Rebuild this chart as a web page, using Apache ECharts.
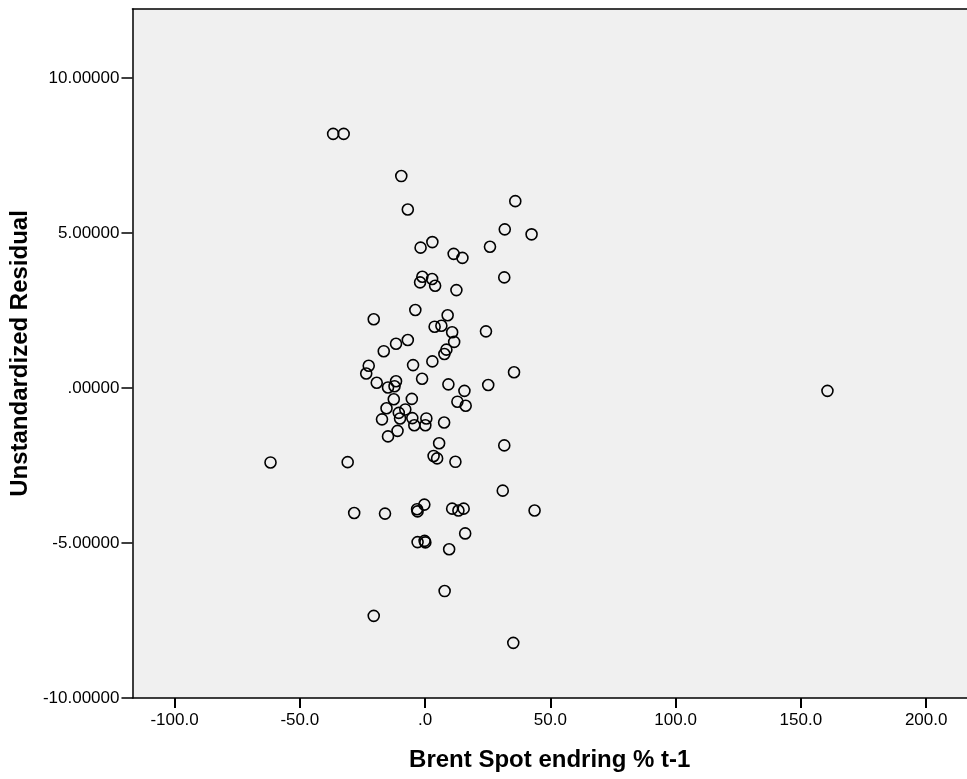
<!DOCTYPE html>
<html>
<head>
<meta charset="utf-8">
<script src="https://cdn.jsdelivr.net/npm/echarts@6/dist/echarts.min.js"></script>
<style>
html,body{margin:0;padding:0;background:#fff;}
#chart{width:967px;height:779px;}
</style>
</head>
<body>
<div id="chart"></div>
<script>
// Brent Spot endring % t-1 (x) vs Unstandardized Residual (y)
const xValues = [
  -36.7, -32.5, -9.5, 36.0, -6.9, 31.8, 42.5, 2.9, -1.8, 25.9,
  11.4, 14.9, 31.6, -1.1, 2.8, -2.0, 4.0, 12.5,
  -3.9, 9.0, -20.5, 3.8, 6.5, 10.8, 24.3, 11.6, -6.9, -11.6,
  -16.5, 8.5, 7.7, -4.8, 2.9, -22.5, -23.5, 35.5, -1.2, -19.3,
  -11.6, -14.8, -12.2, 9.3, 25.2, 15.7, -5.3, -12.5, 12.9, 16.2,
  -7.9, -15.4, -10.5, -10.0, -17.2, -5.1, 0.5, -4.3, 0.1, 7.6,
  -11.0, -14.8, 5.6, 31.6, 3.4, 4.8, 12.1, -30.9, 31.0,
  -28.3, -16.0, -3.2, -3.0, -0.3, 10.8, 13.3, 15.4, 43.7, 16.0,
  -3.0, -0.2, 0.1, 9.6, 7.8, -20.5, 35.2,
  -61.7, 160.6
];
const yValues = [
  8.20, 8.20, 6.84, 6.03, 5.76, 5.12, 4.96, 4.71, 4.53, 4.56,
  4.33, 4.20, 3.57, 3.59, 3.52, 3.41, 3.30, 3.16,
  2.52, 2.35, 2.22, 1.98, 2.01, 1.80, 1.83, 1.49, 1.55, 1.43,
  1.19, 1.24, 1.10, 0.74, 0.86, 0.72, 0.47, 0.51, 0.30, 0.17,
  0.22, 0.02, 0.06, 0.12, 0.10, -0.09, -0.35, -0.36, -0.44, -0.57,
  -0.69, -0.65, -0.80, -0.98, -1.01, -0.97, -0.98, -1.20, -1.20, -1.11,
  -1.38, -1.56, -1.78, -1.85, -2.19, -2.27, -2.38, -2.39, -3.31,
  -4.03, -4.05, -3.91, -3.98, -3.76, -3.89, -3.95, -3.89, -3.95, -4.69,
  -4.97, -4.93, -4.98, -5.20, -6.55, -7.35, -8.22,
  -2.40, -0.09
];
const xTickValues = [-100, -50, 0, 50, 100, 150, 200];
const yTickValues = [-10, -5, 0, 5, 10];
const xAxisTitle = 'Brent Spot endring % t-1';
const yAxisTitle = 'Unstandardized Residual';

const points = xValues.map((x, i) => [x, yValues[i]]);

const chart = echarts.init(document.getElementById('chart'), null, {renderer: 'canvas'});
const labelFont = {color: '#000', fontFamily: 'Liberation Sans, Arial, sans-serif', fontSize: 17};
const titleFont = {color: '#000', fontFamily: 'Liberation Sans, Arial, sans-serif', fontSize: 24, fontWeight: 'bold'};
const X_MIN = -116.8, X_MAX = 216.3;

chart.setOption({
  animation: false,
  backgroundColor: '#ffffff',
  grid: {
    left: 132, top: 9, right: 0, bottom: 81,
    show: true, backgroundColor: '#f0f0f0', borderWidth: 0,
    containLabel: false
  },
  xAxis: [{
    type: 'value', min: X_MIN, max: X_MAX, position: 'bottom',
    name: xAxisTitle, nameLocation: 'middle', nameGap: 50,
    nameTextStyle: titleFont,
    axisLine: {show: true, onZero: false, lineStyle: {color: '#000', width: 1.5}},
    axisTick: {show: true, inside: false, length: 10, customValues: xTickValues, lineStyle: {color: '#000', width: 2}},
    axisLabel: Object.assign({margin: 14, customValues: xTickValues,
      formatter: v => (v === 0 ? '.0' : v.toFixed(1))}, labelFont),
    splitLine: {show: false}
  }, {
    type: 'value', min: X_MIN, max: X_MAX, position: 'top',
    axisLine: {show: true, onZero: false, lineStyle: {color: '#000', width: 1.5}},
    axisTick: {show: false}, axisLabel: {show: false}, splitLine: {show: false}
  }],
  yAxis: {
    type: 'value', min: -10, max: 12.23,
    name: yAxisTitle, nameLocation: 'middle', nameGap: 97,
    nameTextStyle: titleFont,
    axisLine: {show: true, onZero: false, lineStyle: {color: '#000', width: 1.5}},
    axisTick: {show: true, inside: false, length: 11, customValues: yTickValues, lineStyle: {color: '#000', width: 1.5}},
    axisLabel: Object.assign({margin: 13, customValues: yTickValues,
      formatter: v => (v === 0 ? '.00000' : v.toFixed(5))}, labelFont),
    splitLine: {show: false}
  },
  series: [{
    type: 'scatter',
    xAxisIndex: 0,
    data: points,
    symbol: 'circle',
    symbolSize: 11,
    itemStyle: {color: 'rgba(0,0,0,0)', borderColor: '#000', borderWidth: 1.6, opacity: 1},
    emphasis: {disabled: true},
    silent: true
  }]
});
</script>
</body>
</html>
